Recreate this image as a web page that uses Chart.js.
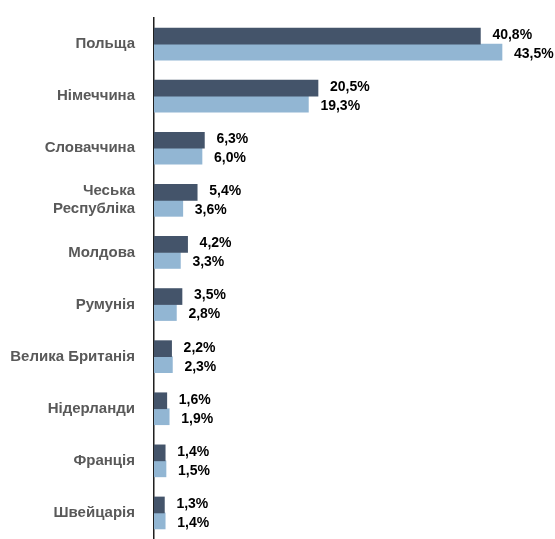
<!DOCTYPE html>
<html>
<head>
<meta charset="utf-8">
<script src="https://cdn.jsdelivr.net/npm/chart.js@4"></script>
<style>
  html, body { margin: 0; padding: 0; background: #fff; }
  #wrap { width: 555px; height: 539px; }
</style>
</head>
<body>
<div id="wrap"><canvas id="chart"></canvas></div>
<script>
const countries = [
  "Польща",
  "Німеччина",
  "Словаччина",
  ["Чеська", "Республіка"],
  "Молдова",
  "Румунія",
  "Велика Британія",
  "Нідерланди",
  "Франція",
  "Швейцарія",
];
const seriesA = [40.8, 20.5, 6.3, 5.4, 4.2, 3.5, 2.2, 1.6, 1.4, 1.3];
const seriesB = [43.5, 19.3, 6.0, 3.6, 3.3, 2.8, 2.3, 1.9, 1.5, 1.4];

const FONT = "'Liberation Sans', Arial, sans-serif";

function fmt(v) {
  return v.toFixed(1).replace(".", ",") + "%";
}

// draws the value to the right of each bar
const valueLabels = {
  id: "valueLabels",
  afterDatasetsDraw(chart) {
    const ctx = chart.ctx;
    ctx.save();
    ctx.font = "bold 14px " + FONT;
    ctx.fillStyle = "#000";
    ctx.textAlign = "left";
    ctx.textBaseline = "middle";
    chart.data.datasets.forEach((ds, i) => {
      const meta = chart.getDatasetMeta(i);
      const dy = i === 0 ? -1 : 2;
      meta.data.forEach((bar, j) => {
        ctx.fillText(fmt(ds.data[j]), bar.x + 12, bar.y + dy);
      });
    });
    ctx.restore();
  },
};

new Chart(document.getElementById("chart"), {
  type: "bar",
  data: {
    labels: countries,
    datasets: [
      { data: seriesA, backgroundColor: "#44546A", barThickness: 16 },
      { data: seriesB, backgroundColor: "#92B6D3", barThickness: 16 },
    ],
  },
  options: {
    indexAxis: "y",
    responsive: true,
    maintainAspectRatio: false,
    animation: false,
    layout: { padding: { top: 18, right: 1, bottom: 0, left: 0 } },
    scales: {
      x: {
        display: false,
        min: 0,
        max: 50,
      },
      y: {
        afterFit(scale) {
          scale.width = 154;
          scale.paddingTop = 0;
          scale.paddingBottom = 0;
        },
        grid: { display: false, drawTicks: false },
        border: { display: true, color: "#1f1f1f", width: 1.5 },
        ticks: {
          color: "#595959",
          padding: 19,
          font: { family: FONT, size: 15, weight: "bold" },
        },
      },
    },
    plugins: {
      legend: { display: false },
      tooltip: { enabled: false },
    },
  },
  plugins: [valueLabels],
});
</script>
</body>
</html>
